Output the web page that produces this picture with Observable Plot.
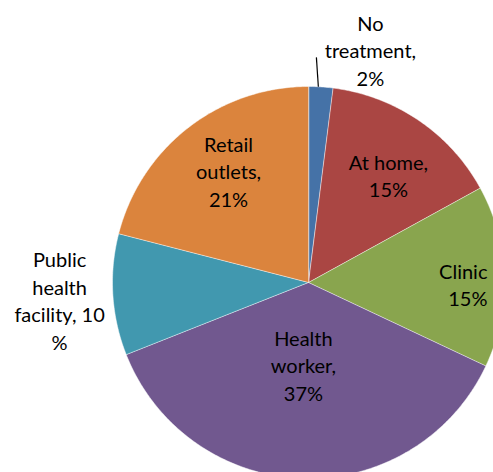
<!DOCTYPE html>
<html>
<head>
<meta charset="utf-8">
<script src="https://cdn.jsdelivr.net/npm/d3@7"></script>
<script src="https://cdn.jsdelivr.net/npm/@observablehq/plot@0.6"></script>
<style>
  html, body { margin: 0; padding: 0; background: #fff; }
  #chart { width: 493px; height: 472px; overflow: hidden; }
</style>
</head>
<body>
<div id="chart"></div>
<script>
// ---- data ----
const categories = ["No treatment", "At home", "Clinic", "Health worker", "Public health facility", "Retail outlets"];
const values = [2, 15, 15, 37, 10, 21];
const colors = ["#4572A7", "#AA4643", "#89A54E", "#71588F", "#4198AF", "#DB843D"];
const labelTexts = [
  "No\ntreatment,\n2%",
  "At home,\n15%",
  "Clinic\n15%",
  "Health\nworker,\n37%",
  "Public\nhealth\nfacility, 10\n%",
  "Retail\noutlets,\n21%"
];

// ---- layout (not data) ----
const W = 493, H = 472;
const CX = 308, CY = 282, R = 196;
// label anchor positions in radius units relative to pie centre (y downward)
const labelLayout = [
  {x: 0.316, y: -1.189, anchor: "middle"},
  {x: 0.408, y: -0.551, anchor: "middle"},
  {x: 0.913, y: 0.005, anchor: "end"},
  {x: -0.026, y: 0.418, anchor: "middle"},
  {x: -1.270, y: 0.087, anchor: "middle"},
  {x: -0.408, y: -0.571, anchor: "middle"}
];

// ---- build slices ----
const pie = d3.pie().sort(null).value(d => d.value);
const rows = categories.map((c, i) => ({cat: c, value: values[i]}));
const arcs = pie(rows);

const polyPoints = [];
arcs.forEach(a => {
  const cat = a.data.cat;
  polyPoints.push({cat, x: 0, y: 0});
  const steps = Math.max(4, Math.ceil((a.endAngle - a.startAngle) / 0.01));
  for (let k = 0; k <= steps; k++) {
    const t = a.startAngle + (a.endAngle - a.startAngle) * k / steps;
    polyPoints.push({cat, x: Math.sin(t), y: -Math.cos(t)});
  }
});

const labels = labelTexts.map((t, i) => ({text: t, ...labelLayout[i]}));

// leader line for the small slice
const small = arcs[0];
const leadAngle = small.startAngle + (small.endAngle - small.startAngle) * 0.4;
const leader = [{
  x1: Math.sin(leadAngle), y1: -Math.cos(leadAngle),
  x2: Math.sin(leadAngle) - 0.01, y2: -Math.cos(leadAngle) - 0.15
}];

const textOpts = {x: "x", y: "y", text: "text", fontSize: 20, lineHeight: 1.38, fill: "#000", lineAnchor: "middle"};

const chart = Plot.plot({
  width: W,
  height: H,
  margin: 0,
  x: {type: "linear", domain: [-CX / R, (W - CX) / R], range: [0, W], axis: null},
  y: {type: "linear", domain: [-CY / R, (H - CY) / R], range: [0, H], axis: null},
  color: {domain: categories, range: colors},
  style: {fontFamily: "Lato, 'Open Sans', sans-serif", background: "#fff"},
  marks: [
    Plot.line(polyPoints, {
      x: "x", y: "y", z: "cat", fill: "cat",
      stroke: "#ffffff", strokeWidth: 0.6, strokeOpacity: 0.8,
      curve: "linear-closed"
    }),
    Plot.link(leader, {x1: "x1", y1: "y1", x2: "x2", y2: "y2", stroke: "#000", strokeWidth: 1.2}),
    Plot.text(labels.filter(d => d.anchor === "middle"), {...textOpts, textAnchor: "middle"}),
    Plot.text(labels.filter(d => d.anchor === "end"), {...textOpts, textAnchor: "end"})
  ]
});
document.getElementById("chart").appendChild(chart);
</script>
</body>
</html>
